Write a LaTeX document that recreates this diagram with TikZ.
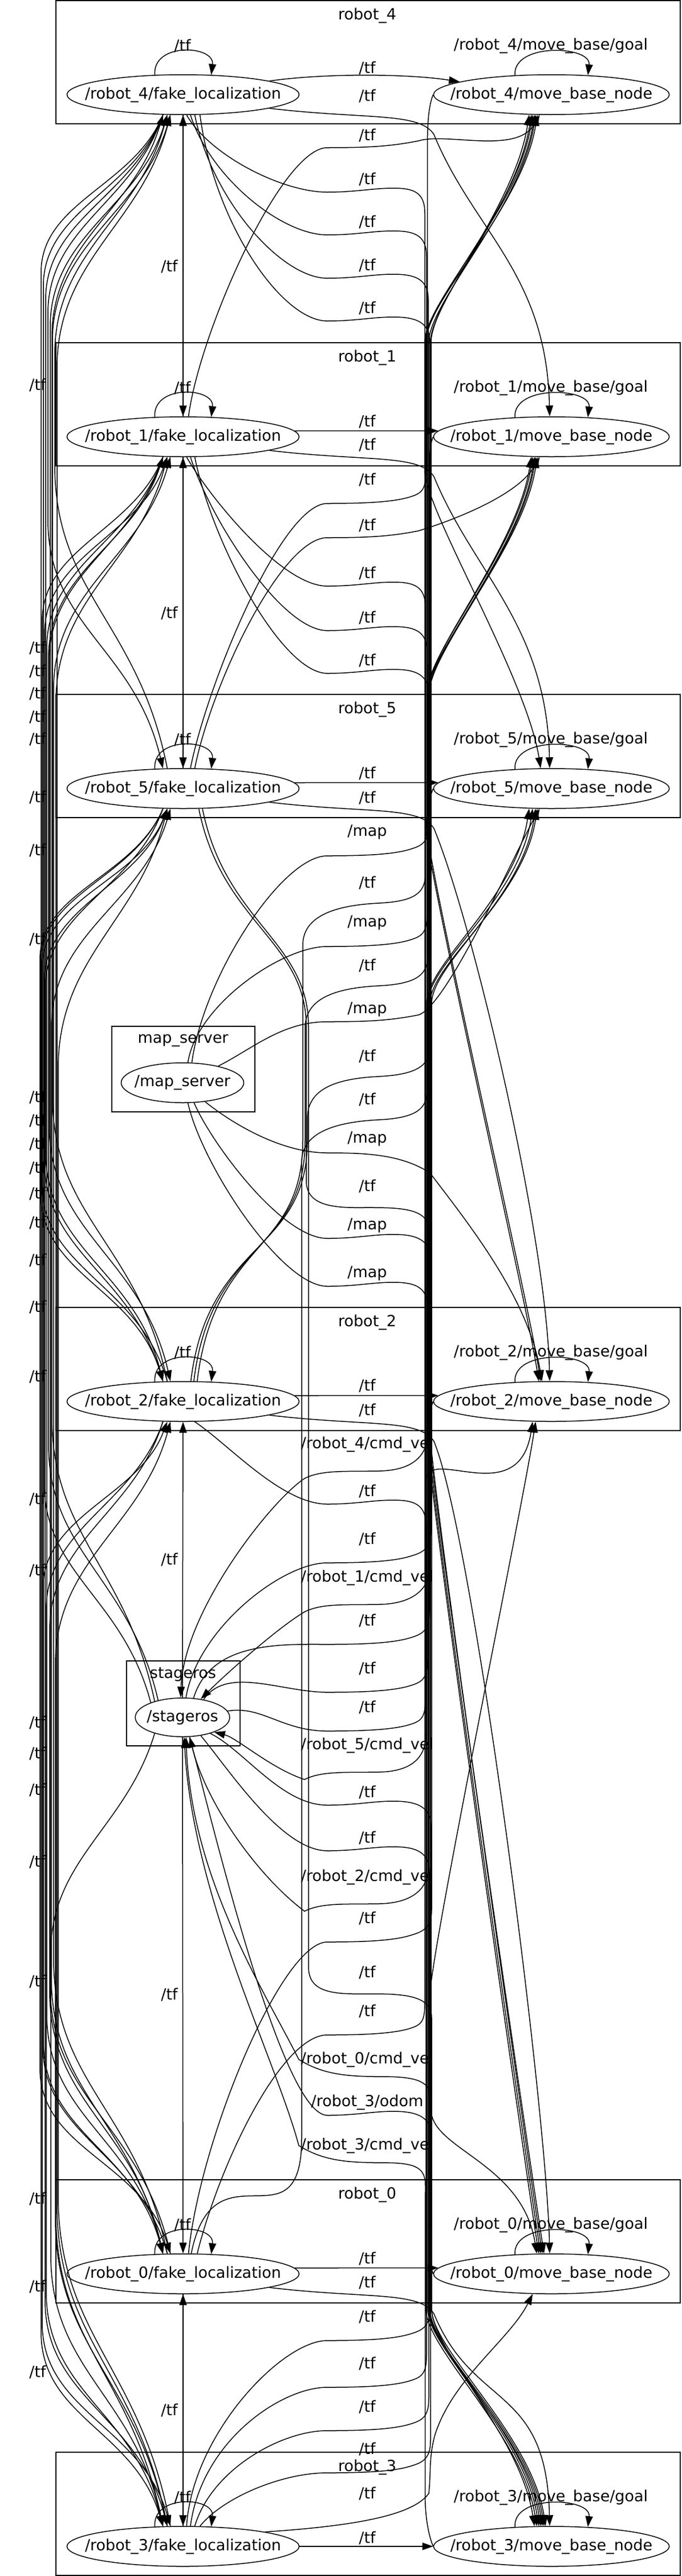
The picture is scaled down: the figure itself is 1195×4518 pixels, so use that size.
\documentclass[tikz,border=0pt]{standalone}
\usepackage{fontspec}
\setmainfont{DejaVu Sans}
\usetikzlibrary{shapes.geometric,arrows.meta,calc}

\tikzset{
  clusterbox/.style={draw, line width=1.6pt},
  topic/.style={font=\fontsize{27}{30}\selectfont, inner sep=0pt},
  rosnode/.style={draw, ellipse, line width=1.5pt, inner ysep=0pt,
    minimum height=70pt, font=\fontsize{27}{30}\selectfont},
  pub/.style={line width=1.5pt, -{Triangle[length=19pt,width=13pt]}},
  pubrev/.style={line width=1.5pt, {Triangle[length=19pt,width=13pt]}-},
}

\begin{document}
\begin{tikzpicture}[x={(1pt,0pt)},y={(0pt,-1pt)}]
\useasboundingbox (0,0) rectangle (1195,4518);

% robot clusters
\foreach \n/\yt in {4/1,1/601,5/1218,2/2293,0/3823,3/4301} {
  \draw[clusterbox] (98,\yt) rectangle (1193,\yt+216);
  \node[topic] (c\n) at (644,\yt+26) {robot\_\n};
  \node[rosnode,inner xsep=-28pt] (fl\n) at (321,\yt+165) {/robot\_\n/fake\_localization};
  \node[rosnode,inner xsep=-31pt] (mb\n) at (967,\yt+165) {/robot\_\n/move\_base\_node};
  \node[topic] (lt\n) at (320,\yt+79) {/tf};
  \node[topic] (lg\n) at (966,\yt+79) {/robot\_\n/move\_base/goal};
  \draw[pub] (fl\n.145) .. controls +(-4,-58) and +(6,-52) .. (fl\n.35);
  \draw[pub] (mb\n.152) .. controls +(-4,-58) and +(6,-52) .. (mb\n.28);
}

\draw[clusterbox,line width=1.3pt] (196,1800) rectangle (447,1950);
\node[topic] (cms) at (321,1825) {map\_server};
\node[rosnode,inner xsep=-8pt] (ms) at (320,1899) {/map\_server};
\draw[clusterbox,line width=1.3pt] (222,2913) rectangle (421,3062);
\node[topic] (cst) at (321,2937) {stageros};
\node[rosnode,inner xsep=-4pt,minimum height=68pt] (st) at (320,3012) {/stageros};

% labels
\foreach \n/\yy in {4/119,1/739,5/1356,2/2430,0/3961,3/4451}
  \node[topic] (la\n) at (644,\yy) {/tf};
\foreach \n/\yy in {4/168,1/780,5/1399,2/2473,0/4003}
  \node[topic] (lb\n) at (644,\yy) {/tf};
\foreach \yy [count=\i] in {467,1075,2735,3498,4227}
  \node[topic] (u\i) at (297,\yy) {/tf};
\foreach \yy [count=\i] in {675,1136,1177,1216,1257,1296,1398,1491,1647,1924,1965,2006,2048,2093,
    2144,2210,2292,2414,2629,2754,3021,3075,3139,3265,3475,3856,4010,4160}
  \node[topic] (v\i) at (66,\yy) {/tf};
\foreach \yy/\txt [count=\i] in {237/{/tf},314/{/tf},389/{/tf},465/{/tf},540/{/tf},841/{/tf},
    921/{/tf},1005/{/tf},1083/{/tf},1158/{/tf},1459/{/map},1548/{/tf},1618/{/map},1693/{/tf},
    1770/{/map},1852/{/tf},1928/{/tf},1997/{/map},2080/{/tf},2149/{/map},2233/{/map},
    2533/{/robot\_4/cmd\_vel},2615/{/tf},2699/{/tf},2767/{/robot\_1/cmd\_vel},2842/{/tf},
    2926/{/tf},2994/{/tf},3061/{/robot\_5/cmd\_vel},3143/{/tf},3223/{/tf},
    3292/{/robot\_2/cmd\_vel},3364/{/tf},3459/{/tf},3527/{/tf},3612/{/robot\_0/cmd\_vel},
    3687/{/robot\_3/odom},3763/{/robot\_3/cmd\_vel},4063/{/tf},4145/{/tf},4221/{/tf},
    4295/{/tf},4373/{/tf}}
  \node[topic] (w\i) at (644,\yy) {\txt};

% inside the clusters
\draw[pub] (fl4.9) .. controls +(100,-14) and +(-90,-14) .. (mb4.172);
\foreach \n in {1,5,2,0}
  \draw[pub] (fl\n.3) -- (mb\n.177);
\draw[pub] (fl3.east) -- (mb3.west);

\foreach \a/\b in {fl4/mb1,fl1/mb5,fl5/mb2,fl2/mb0,fl0/mb3}
  \draw[pub] (\a.-9) .. controls +(170,20) and +(-25,-40) .. ($(\a)+(440,70)$)
    .. controls +(70,170) and +(-5,-250) .. (\b.95);

% straight down the middle
\draw[pub] (fl4.south) -- (fl1.north);
\draw[pub] (fl1.north) -- (fl4.south);
\draw[pub] (fl1.south) -- (fl5.north);
\draw[pub] (fl5.north) -- (fl1.south);
\draw[pub] (st.north) -- (fl2.south);
\draw[pub] (st.south) -- (fl0.north);
\draw[pub] (fl0.south) -- (fl3.north);
\draw[pub] (fl3.north) -- (fl0.south);

% left column
\foreach \a/\aa/\b/\ba/\ea/\eb/\xc/\sty [evaluate=\xc as \du using 300+6*(\xc-70),
    evaluate=\xc as \dl using 360+8*(\xc-70)] in {
  fl4/-135/fl5/135/166/1383/84/pub, fl4/-128/fl5/128/166/1383/96/pubrev,
  fl4/-135/fl2/135/166/2458/80/pub, fl4/-122/fl2/128/166/2458/92/pubrev,
  fl4/-135/fl0/135/166/3987/76/pub, fl4/-128/fl0/122/166/3987/88/pubrev,
  fl4/-135/fl3/135/166/4466/72/pub, fl4/-122/fl3/128/166/4466/100/pubrev,
  fl1/-135/fl2/122/765/2458/86/pub, fl1/-128/fl2/135/765/2458/78/pubrev,
  fl1/-135/fl0/135/765/3987/82/pub, fl1/-122/fl0/128/765/3987/94/pubrev,
  fl1/-135/fl3/122/765/4466/74/pub, fl1/-128/fl3/135/765/4466/98/pubrev,
  fl5/-135/fl2/135/1383/2458/71/pub, fl5/-128/fl2/128/1383/2458/73/pubrev,
  fl5/-135/fl0/122/1383/3987/70/pub, fl5/-122/fl0/135/1383/3987/90/pubrev,
  fl5/-135/fl3/128/1383/4466/79/pub, fl5/-128/fl3/122/1383/4466/102/pubrev,
  fl2/-135/fl0/135/2458/3987/87/pub, fl2/-128/fl0/128/2458/3987/75/pubrev,
  fl2/-135/fl3/135/2458/4466/81/pub, fl2/-122/fl3/128/2458/4466/97/pubrev,
  fl4/-135/st/150/166/3012/91/pubrev, fl1/-135/st/145/765/3012/85/pubrev,
  fl5/-128/st/155/1383/3012/77/pubrev, st/-150/fl3/135/3012/4466/89/pub}
  \draw[\sty] (\a.\aa) .. controls +(-50,0.4*\du) and (\xc,\ea+0.6*\du) .. (\xc,\ea+\du)
    -- (\xc,\eb-\dl) .. controls (\xc,\eb-0.6*\dl) and +(-50,-0.45*\dl) .. (\b.\ba);

% waves down into the trunk
\foreach \i/\src/\sa/\cx/\cy/\tx/\yd/\dst/\da in {
  2/fl4/-80/40/70/745/825/mb5/118,
  3/fl4/-70/35/110/748/1445/mb2/118,
  4/fl4/-60/30/150/751/2520/mb0/118,
  5/fl4/-50/25/190/754/4050/mb3/118,
  8/fl1/-80/40/70/746/1445/mb2/122,
  9/fl1/-70/35/110/749/2520/mb0/122,
  10/fl1/-60/30/150/752/4050/mb3/122,
  20/ms/-60/30/70/755/2520/mb0/114,
  21/ms/-75/25/110/750/4050/mb3/114,
  23/fl2/-60/60/40/747/4050/mb3/126,
  30/st/-30/60/30/756/3700/mb0/126,
  31/st/-45/50/60/753/4050/mb3/110,
  37/st/-70/40/150/757/4050/mb3/130}
  \draw[pub] (\src.\sa) .. controls +(\cx,\cy) and ($(w\i)+(-150,23)$) .. ($(w\i)+(-70,23)$)
    .. controls ($(w\i)+(-20,23)$) and ($(w\i)+(10,16)$) .. ($(w\i)+(45,16)$)
    .. controls ($(w\i)+(80,16)$) and ($(w\i)+({\tx-644},22)$) .. ($(w\i)+({\tx-644},60)$)
    -- (\tx,\yd) .. controls (\tx,\yd+70) and +(-25,-160) .. (\dst.\da);

% waves up the trunk
\foreach \i/\src/\sa/\cx/\cy/\tx/\yd/\dst/\da in {
  6/fl5/70/30/-150/747/600/mb4/-133,
  11/ms/65/20/-150/752/600/mb4/-128,
  13/ms/75/15/-100/749/1215/mb1/-133,
  24/st/80/20/-120/756/600/mb4/-138,
  26/st/60/30/-100/753/1215/mb1/-128,
  27/st/40/40/-60/750/1760/mb5/-133,
  28/st/8/60/-10/746/2600/mb2/-133,
  33/fl0/75/20/-200/757/1760/mb5/-128,
  35/fl0/55/40/-160/745/600/mb4/-130,
  39/fl3/80/10/-160/754/3500/mb2/-128,
  40/fl3/70/20/-150/748/1760/mb5/-138,
  41/fl3/60/30/-100/752/1215/mb1/-130,
  42/fl3/50/40/-50/755/600/mb4/-135}
  \draw[pub] (\src.\sa) .. controls +(\cx,\cy) and ($(w\i)+(-150,42)$) .. ($(w\i)+(-70,42)$)
    .. controls ($(w\i)+(-10,42)$) and ($(w\i)+(40,40)$) .. ($(w\i)+(70,32)$)
    .. controls ($(w\i)+(95,25)$) and ($(w\i)+({\tx-644},20)$) .. ($(w\i)+({\tx-644},-15)$)
    -- (\tx,\yd) .. controls (\tx,\yd-70) and +(-25,160) .. (\dst.\da);

\foreach \i/\src/\sa/\cx/\cy/\dst/\da in {1/fl1/75/20/-150/mb4/-120,7/fl5/60/30/-150/mb1/-120,
    15/ms/25/60/-30/mb5/-120}
  \draw[pub] (\src.\sa) .. controls +(\cx,\cy) and ($(w\i)+(-150,22)$) .. ($(w\i)+(-70,22)$)
    .. controls ($(w\i)+(0,22)$) and ($(w\i)+(40,20)$) .. ($(w\i)+(90,10)$)
    .. controls +(50,-15) and +(-40,70) .. (\dst.\da);

\draw[pub] (ms.-40) .. controls +(50,40) and ($(w18)+(-150,25)$) .. ($(w18)+(-70,25)$)
  .. controls ($(w18)+(0,25)$) and ($(w18)+(60,28)$) .. ($(w18)+(110,60)$)
  .. controls +(60,80) and +(-25,-150) .. (mb2.115);

% up and down the second column
\foreach \i/\a/\cc/\tx/\yd/\dst/\da in {12/55/531/746/600/mb4/-125,14/62/535/750/1215/mb1/-125,
    16/69/539/754/1760/mb5/-125}
  \draw[pub] (fl2.\a) .. controls +(30,-250) and (\cc,2200) .. (\cc,2000)
    -- ($(w\i)+({\cc-644},110)$) .. controls ($(w\i)+({\cc-644},60)$) and ($(w\i)+(-60,40)$) .. ($(w\i)+(20,36)$)
    .. controls ($(w\i)+(80,33)$) and ($(w\i)+({\tx-644},20)$) .. ($(w\i)+({\tx-644},-15)$)
    -- (\tx,\yd) .. controls (\tx,\yd-70) and +(-25,160) .. (\dst.\da);
\draw[pub] (fl0.68) .. controls +(40,-200) and (529,3950) .. (529,3750)
  -- ($(w17)+(-115,110)$) .. controls ($(w17)+(-115,60)$) and ($(w17)+(-60,40)$) .. ($(w17)+(20,36)$)
  .. controls ($(w17)+(80,33)$) and ($(w17)+(105,20)$) .. ($(w17)+(105,-15)$)
  -- (749,1215) .. controls (749,1145) and +(-25,160) .. (mb1.-135);
\foreach \i/\a/\cc/\tx/\yd/\dst/\da in {19/-52/537/753/2520/mb0/110,34/-46/541/757/4050/mb3/106}
  \draw[pub] (fl5.\a) .. controls +(40,200) and (\cc,1650) .. (\cc,1800)
    -- ($(w\i)+({\cc-644},-10)$) .. controls ($(w\i)+({\cc-644},25)$) and ($(w\i)+(-80,38)$) .. ($(w\i)+(-20,38)$)
    .. controls ($(w\i)+(50,38)$) and ($(w\i)+({\tx-644},35)$) .. ($(w\i)+({\tx-644},80)$)
    -- (\tx,\yd) .. controls (\tx,\yd+70) and +(-25,-160) .. (\dst.\da);

% cmd_vel to stageros
\foreach \i/\m/\tx/\ang/\px/\py/\qx/\qy in {22/mb4/750/95/-60/40/5/-150,25/mb1/754/45/-50/30/40/-40,
    29/mb5/747/-25/-60/-20/40/10,32/mb2/752/-70/-80/-60/30/120}
  \draw[pub] (\m.west) .. controls +(-8,20) and +(0,-40) .. ($(\m.west)+({\tx-760},90)$)
    -- ($(w\i)+({\tx-644},-20)$)
    .. controls ($(w\i)+({\tx-644},20)$) and ($(w\i)+(80,46)$) .. ($(w\i)+(20,47)$)
    .. controls ($(w\i)+(-40,48)$) and ($(w\i)+(-80,45)$) .. ($(w\i)+(-110,60)$)
    .. controls +(\px,\py) and +(\qx,\qy) .. (st.\ang);
\foreach \i/\m/\tx/\ang/\px/\py/\qx/\qy in {36/mb0/756/-80/-60/-120/10/250,38/mb3/746/-85/-40/-150/15/280}
  \draw[pub] (\m.west) .. controls +(-8,-20) and +(0,40) .. ($(\m.west)+({\tx-760},-90)$)
    -- ($(w\i)+({\tx-644},70)$)
    .. controls ($(w\i)+({\tx-644},35)$) and ($(w\i)+(80,30)$) .. ($(w\i)+(20,30)$)
    .. controls ($(w\i)+(-40,30)$) and ($(w\i)+(-80,25)$) .. ($(w\i)+(-120,0)$)
    .. controls +(\px,\py) and +(\qx,\qy) .. (st.\ang);

\draw[pub] (fl3.10) .. controls +(150,-10) and ($(w43)+(80,40)$) .. ($(w43)+(108,0)$)
  .. controls ($(w43)+(112,-40)$) and ($(w43)+(108,-60)$) .. ($(w43)+(118,-100)$)
  .. controls +(30,-100) and +(-40,80) .. (mb0.-133);
\end{tikzpicture}
\end{document}
